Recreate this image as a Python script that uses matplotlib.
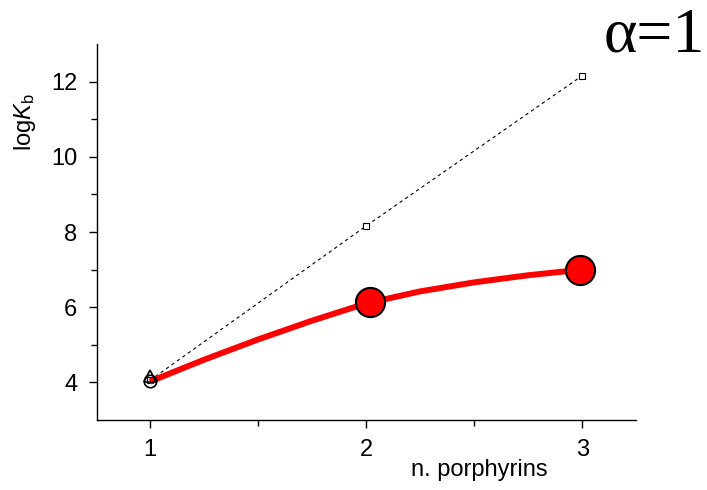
import numpy as np
import matplotlib.pyplot as plt

plt.rcParams['font.family'] = ['Liberation Sans', 'DejaVu Sans']
plt.rcParams['mathtext.fontset'] = 'custom'
plt.rcParams['mathtext.rm'] = 'Liberation Sans'
plt.rcParams['mathtext.it'] = 'Liberation Sans:italic'

# data
n_ideal = [1, 2, 3]
logk_ideal = [4.05, 8.16, 12.16]

n_meas = [2.02, 2.99]
logk_meas = [6.13, 7.0]

# smooth red curve
n_curve = [1.0, 1.25, 1.5, 1.75, 2.0, 2.25, 2.5, 2.75, 3.0]
logk_curve = [4.02, 4.6, 5.14, 5.64, 6.1, 6.42, 6.66, 6.85, 7.0]

mono_tri = (1.0, 4.16)
mono_circ = (1.0, 4.03)

fig = plt.figure(figsize=(7.07, 4.9), dpi=100)
ax = fig.add_axes([0.137, 0.143, 0.763, 0.767])

ax.plot(n_ideal, logk_ideal, color='black', lw=0.8, ls=(0, (3, 3)),
        marker='s', ms=4.5, mfc='white', mec='black', mew=0.8)
ax.plot(n_curve, logk_curve, color='red', lw=4.3, solid_capstyle='butt')
ax.plot(n_meas, logk_meas, ls='none', marker='o', ms=21, mfc='red',
        mec='black', mew=1.5)
ax.plot(*mono_tri, marker='^', ms=9, mfc='none', mec='black', mew=1.2)
ax.plot(*mono_circ, marker='o', ms=9, mfc='none', mec='black', mew=1.2)

ax.set_xlim(0.755, 3.25)
ax.set_ylim(3, 13)
ax.set_xticks([1, 2, 3])
ax.set_xticks([1.5, 2.5], minor=True)
ax.set_yticks([4, 6, 8, 10, 12])
ax.set_yticks([5, 7, 9, 11], minor=True)
ax.spines['top'].set_visible(False)
ax.spines['right'].set_visible(False)
for s in ['left', 'bottom']:
    ax.spines[s].set_linewidth(1.0)
ax.tick_params(which='major', direction='out', length=6, width=1, labelsize=17, pad=8)
ax.tick_params(which='minor', direction='out', length=4, width=1)

fig.text(0.035, 0.75, r'log$\mathit{K}_\mathrm{b}$', rotation=90, fontsize=17,
         ha='center', va='center')
fig.text(0.775, 0.04, 'n. porphyrins', fontsize=17, ha='right', va='center')
fig.text(0.997, 0.925, 'α=1', fontsize=46, family=['Liberation Serif', 'DejaVu Serif'],
         ha='right', va='center')

fig.savefig('out.png', dpi=100)
